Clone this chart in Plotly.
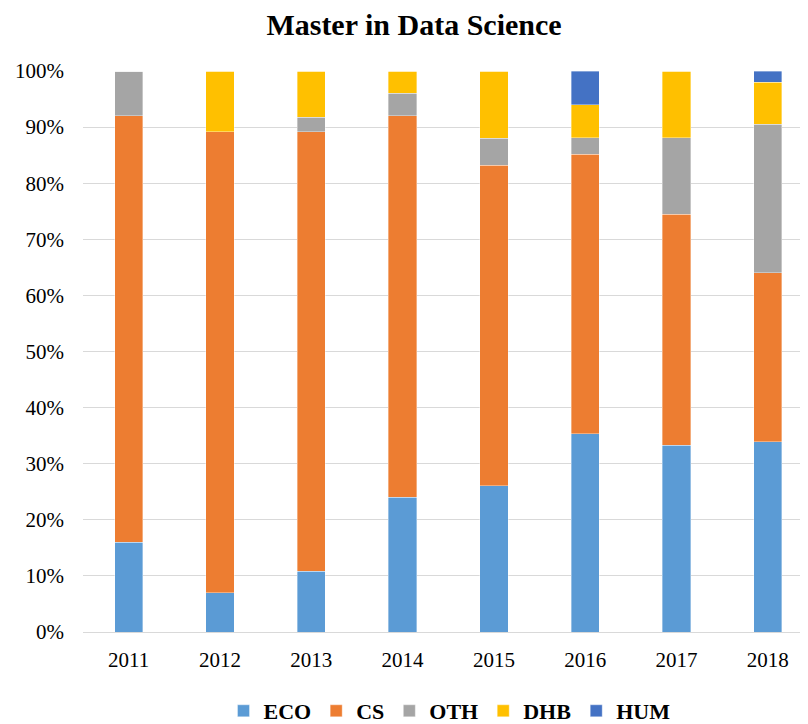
import plotly.graph_objects as go

years = ["2011", "2012", "2013", "2014", "2015", "2016", "2017", "2018"]
eco = [0.160, 0.070, 0.108, 0.240, 0.261, 0.353, 0.333, 0.339]
cs = [0.760, 0.822, 0.784, 0.680, 0.571, 0.499, 0.412, 0.301]
oth = [0.080, 0.000, 0.026, 0.040, 0.048, 0.029, 0.136, 0.265]
dhb = [0.000, 0.108, 0.082, 0.040, 0.120, 0.059, 0.119, 0.075]
hum = [0.000, 0.000, 0.000, 0.000, 0.000, 0.060, 0.000, 0.020]

series = [
    ("ECO", eco, "#5B9BD5"),
    ("CS", cs, "#ED7D31"),
    ("OTH", oth, "#A5A5A5"),
    ("DHB", dhb, "#FFC000"),
    ("HUM", hum, "#4472C4"),
]

font_family = "Liberation Serif, Times New Roman, serif"

fig = go.Figure()
for name, vals, color in series:
    fig.add_trace(go.Bar(
        x=years, y=vals, name=name, width=0.31,
        marker=dict(color=color, line=dict(color="rgba(255,255,255,0.6)", width=0.6)),
    ))

fig.update_layout(
    width=808, height=724,
    barmode="stack",
    plot_bgcolor="white", paper_bgcolor="white",
    margin=dict(l=75, r=8, t=63, b=100, autoexpand=False),
    font=dict(family=font_family, size=21, color="black"),
    title=dict(text="<b>Master in Data Science</b>", x=406/808, xanchor="center",
               xref="container", y=1 - 16/724, yanchor="middle", yref="container",
               font=dict(family=font_family, size=30, color="black")),
    legend=dict(orientation="h", x=441.5/808, xanchor="center", xref="container",
                y=1 - 703/724, yanchor="middle", yref="container", traceorder="normal",
                font=dict(family=font_family, size=22, color="black", weight="bold")),
    xaxis=dict(range=[-0.5, 7.44], showgrid=False, showline=False, ticks="",
               automargin=False,
               tickfont=dict(family=font_family, size=21, color="black"),
               ticklabelstandoff=13),
    yaxis=dict(range=[0, 1], dtick=0.1, tickformat=".0%", showgrid=True,
               automargin=False,
               gridcolor="#D9D9D9", gridwidth=1, zeroline=True, zerolinecolor="#D9D9D9",
               zerolinewidth=1, showline=False, ticks="",
               tickfont=dict(family=font_family, size=21, color="black"),
               ticklabelstandoff=18),
)

fig.write_html("out.html")
